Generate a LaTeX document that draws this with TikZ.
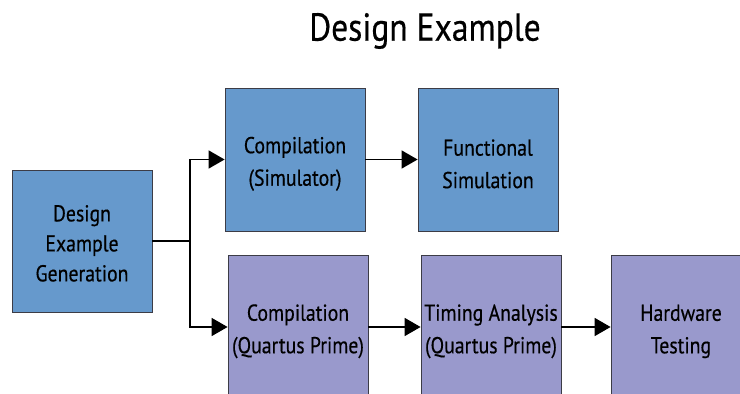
\documentclass[tikz,border=0pt]{standalone}
\usepackage{fontspec}
\setmainfont{PT Sans}[FakeStretch=0.86,FakeBold=0.4]
\usetikzlibrary{arrows.meta}
\definecolor{boxblue}{RGB}{102,153,204}
\definecolor{boxpurple}{RGB}{153,153,204}
\definecolor{boxedge}{RGB}{60,60,70}
\newcommand{\lowertext}[1][25pt]{\rule{0pt}{#1}}
\tikzset{
  stepbox/.style={draw=boxedge, line width=0.8pt, minimum width=140pt, minimum height=143pt, align=center, inner sep=0pt, font=\fontsize{23}{32.5}\selectfont},
  bluebox/.style={stepbox, fill=boxblue},
  purplebox/.style={stepbox, fill=boxpurple},
  flow/.style={line width=1.6pt, -{Triangle[length=16pt,width=18pt]}}
}
\begin{document}
\begin{tikzpicture}[x=1pt,y=-1pt]
\useasboundingbox (0,0) rectangle (740,394);
\clip (0,0) rectangle (740,394);
\node[font=\fontsize{39}{42}\selectfont] (title) at (425,31) {Design Example};
\node[bluebox, minimum height=142pt, font=\fontsize{23}{30}\selectfont] (gen) at (82,241) {\lowertext[21pt]Design\\Example\\Generation};
\node[bluebox] (csim) at (295,159.5) {\lowertext Compilation\\(Simulator)};
\node[bluebox] (func) at (488,159.5) {\lowertext Functional\\Simulation};
\node[purplebox] (cq) at (298,327) {\lowertext Compilation\\(Quartus Prime)};
\node[purplebox] (tim) at (491,327) {\lowertext Timing Analysis\\(Quartus Prime)};
\node[purplebox] (hw) at (681,327) {\lowertext Hardware\\Testing};
\coordinate (j) at (190,241);
\draw[line width=1.6pt] (gen.east) -- (j);
\draw[flow] (j) |- (csim.west);
\draw[flow] (j) |- (cq.west);
\draw[flow] (csim.east) -- (func.west);
\draw[flow] (cq.east) -- (tim.west);
\draw[flow] (tim.east) -- (hw.west);
\end{tikzpicture}
\end{document}
